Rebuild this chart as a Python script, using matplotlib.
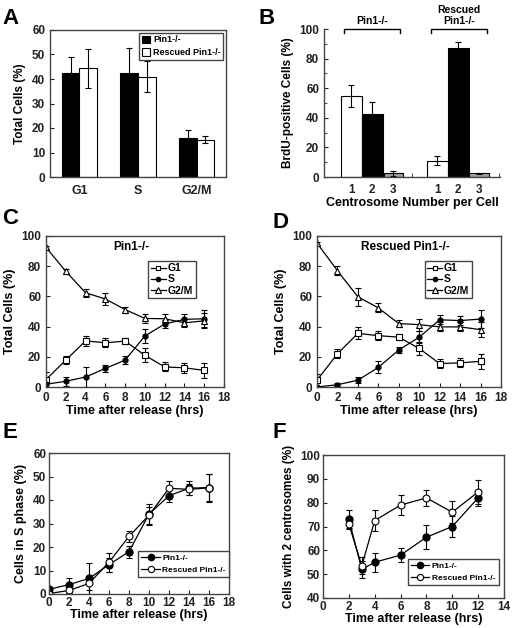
import numpy as np
import matplotlib
matplotlib.use("Agg")
from matplotlib import pyplot as plt
from matplotlib.lines import Line2D

plt.rcParams['font.family'] = ['Liberation Sans', 'DejaVu Sans']
plt.rcParams['font.weight'] = 'bold'
plt.rcParams['axes.labelweight'] = 'bold'
plt.rcParams['axes.edgecolor'] = '#444444'
plt.rcParams['axes.linewidth'] = 1.0
plt.rcParams['xtick.direction'] = 'in'
plt.rcParams['ytick.direction'] = 'in'
plt.rcParams['xtick.color'] = '#222222'
plt.rcParams['ytick.color'] = '#222222'

# --- Panel A: cell cycle distribution ---
phases = ["G1", "S", "G2/M"]
a_pin1 = [42.3, 42.5, 15.8]
a_pin1_err = [6.5, 10.0, 3.5]
a_resc = [44.3, 41.0, 15.2]
a_resc_err = [8.0, 6.5, 1.5]

# --- Panel B: BrdU-positive cells by centrosome number ---
centro_labels = ["1", "2", "3"]
b_pin1 = [55.0, 42.5, 2.5]
b_pin1_err = [7.5, 8.0, 1.5]
b_resc = [11.0, 87.5, 2.5]
b_resc_err = [3.0, 3.5, 0.5]
b_colors = ["white", "black", "#a0a0a0"]

# --- Panels C / D: time course after release ---
hours = [0, 2, 4, 6, 8, 10, 12, 14, 16]
c_g1 = [4.9, 17.8, 30.5, 29.3, 30.4, 21.0, 13.3, 12.7, 11.0]
c_g1_err = [5.0, 2.5, 3.5, 3.0, 2.0, 4.5, 3.0, 3.5, 5.0]
c_s = [1.8, 3.8, 6.6, 12.3, 17.8, 33.8, 41.7, 44.8, 45.2]
c_s_err = [1.5, 3.0, 6.5, 2.5, 2.5, 4.5, 2.5, 3.5, 5.5]
c_g2m = [92.5, 76.6, 62.4, 58.3, 51.3, 45.4, 45.2, 42.5, 43.8]
c_g2m_err = [1.0, 1.5, 2.5, 4.0, 2.0, 3.0, 3.0, 2.5, 5.0]

d_g1 = [4.5, 22.0, 35.5, 34.0, 33.0, 25.5, 15.5, 16.0, 17.0]
d_g1_err = [4.0, 3.0, 4.0, 3.0, 2.0, 4.0, 3.0, 3.0, 5.0]
d_s = [0.0, 1.5, 4.5, 13.0, 24.5, 33.0, 44.5, 44.0, 45.0]
d_s_err = [0.5, 1.0, 2.0, 4.0, 2.0, 4.0, 3.0, 3.0, 6.0]
d_g2m = [95.3, 77.0, 59.7, 52.4, 42.0, 41.3, 39.8, 39.8, 38.0]
d_g2m_err = [1.0, 3.0, 6.0, 3.0, 2.5, 4.0, 3.0, 3.0, 5.0]

# --- Panel E: S phase ---
e_pin1 = [2.0, 4.0, 6.6, 12.5, 18.0, 34.0, 41.8, 45.0, 45.3]
e_pin1_err = [0.5, 3.0, 6.5, 3.0, 2.5, 4.5, 2.5, 3.0, 5.8]
e_resc = [0.2, 1.5, 4.5, 13.5, 24.5, 33.5, 45.0, 44.5, 45.2]
e_resc_err = [0.5, 1.0, 3.0, 4.0, 2.5, 3.5, 3.0, 2.5, 6.0]

# --- Panel F: cells with 2 centrosomes ---
f_hours = [2, 3, 4, 6, 8, 10, 12]
f_pin1 = [73.0, 52.0, 55.0, 58.0, 65.5, 70.0, 82.0]
f_pin1_err = [3.8, 3.5, 4.0, 3.0, 5.0, 4.5, 3.5]
f_resc = [71.0, 53.5, 72.5, 79.0, 82.0, 76.0, 84.5]
f_resc_err = [2.0, 3.5, 4.5, 4.2, 3.5, 4.5, 5.0]

W, H = 512, 628
fig = plt.figure(figsize=(W / 100, H / 100), dpi=100)


def box(l, r, t, b):
    return [l / W, 1 - b / H, (r - l) / W, (b - t) / H]


tick_fs = 8.5
lab_fs = 8.5
leg_fs = 6.5
letter_fs = 16

# Panel A
axA = fig.add_axes(box(50, 226, 30, 177))
xa = np.arange(len(phases)) + 0.5
bw = 0.3
axA.bar(xa - bw / 2, a_pin1, bw, color="black", edgecolor="black", linewidth=0.8,
        yerr=a_pin1_err, capsize=2.5, error_kw=dict(elinewidth=0.8, capthick=0.8), label="Pin1-/-")
axA.bar(xa + bw / 2, a_resc, bw, color="white", edgecolor="black", linewidth=0.8,
        yerr=a_resc_err, capsize=2.5, error_kw=dict(elinewidth=0.8, capthick=0.8), label="Rescued Pin1-/-")
axA.set_xlim(0, 3)
axA.set_ylim(0, 60)
axA.set_xticks(xa)
axA.set_xticklabels(phases, fontsize=tick_fs + 0.5)
axA.tick_params(axis='x', length=0, pad=6)
axA.set_yticks(np.arange(0, 61, 10))
axA.tick_params(axis='y', labelsize=tick_fs, length=3)
axA.set_ylabel("Total Cells (%)", fontsize=lab_fs)
axA.legend(loc="upper right", fontsize=leg_fs, fancybox=False, edgecolor="#444444",
           handlelength=0.9, handleheight=0.9, handletextpad=0.3, borderpad=0.3,
           labelspacing=0.4, borderaxespad=0.3, framealpha=1)
fig.text(2 / W, 1 - 18 / H, "A", fontsize=letter_fs, fontweight="bold", va="center")

# Panel B
axB = fig.add_axes(box(324, 500, 29, 177))
g1 = np.array([1.3, 2.3, 3.3])
g2 = np.array([5.4, 6.4, 7.4])
for i in range(3):
    w = 1.0 if i < 2 else 0.92
    axB.bar(g1[i], b_pin1[i], w, color=b_colors[i], edgecolor="black", linewidth=0.8,
            yerr=b_pin1_err[i], capsize=2.5, error_kw=dict(elinewidth=0.8, capthick=0.8))
    axB.bar(g2[i], b_resc[i], w, color=b_colors[i], edgecolor="black", linewidth=0.8,
            yerr=b_resc_err[i], capsize=2.5, error_kw=dict(elinewidth=0.8, capthick=0.8))
axB.set_xlim(0, 8.4)
axB.set_ylim(0, 100)
axB.spines['top'].set_visible(False)
axB.spines['right'].set_visible(False)
axB.set_xticks(np.concatenate([g1, g2]))
axB.set_xticklabels(centro_labels * 2, fontsize=tick_fs)
axB.tick_params(axis='x', length=0, pad=5)
axB.set_xticks([4.2, 8.35], minor=True)
axB.tick_params(axis='x', which='minor', length=3)
axB.set_yticks(np.arange(0, 101, 20))
axB.set_yticks(np.arange(10, 100, 20), minor=True)
axB.tick_params(axis='y', labelsize=tick_fs, length=3)
axB.tick_params(axis='y', which='minor', length=2)
axB.set_ylabel("BrdU-positive Cells (%)", fontsize=lab_fs)
axB.set_xlabel("Centrosome Number per Cell", fontsize=lab_fs + 0.5, labelpad=1)
for (x0, x1), txt in zip([(0.95, 3.62), (5.1, 7.76)], ["Pin1-/-", "Rescued\nPin1-/-"]):
    axB.plot([x0, x0, x1, x1], [97, 100, 100, 97], color="black", lw=1.0, clip_on=False)
    axB.text((x0 + x1) / 2, 102, txt, ha="center", va="bottom", fontsize=7.5,
             linespacing=1.1, clip_on=False)
fig.text(259 / W, 1 - 18 / H, "B", fontsize=letter_fs, fontweight="bold", va="center")


def time_panel(ax, g1, g1e, s, se, g2m, g2me, title):
    ek = dict(capsize=2, elinewidth=0.8, capthick=0.8, lw=0.9, ecolor="black")
    ax.errorbar(hours, g1, yerr=g1e, color="black", marker="s", ms=4.5, mfc="white",
                mec="black", mew=0.8, **ek)
    ax.errorbar(hours, s, yerr=se, color="black", marker="o", ms=3.5, mfc="black",
                mec="black", **ek)
    ax.errorbar(hours, g2m, yerr=g2me, color="black", marker="^", ms=5, mfc="white",
                mec="black", mew=0.8, **ek)
    ax.set_xlim(0, 18)
    ax.set_ylim(0, 100)
    ax.set_xticks(np.arange(0, 19, 2))
    ax.set_yticks(np.arange(0, 101, 20))
    ax.tick_params(labelsize=tick_fs, length=3)
    ax.set_xlabel("Time after release (hrs)", fontsize=lab_fs + 0.5, labelpad=1)
    ax.set_ylabel("Total Cells (%)", fontsize=lab_fs + 0.5)
    ax.text(0.48, 0.93, title, transform=ax.transAxes, ha="center", va="center", fontsize=8.5)
    handles = [
        Line2D([], [], color="black", lw=0.9, marker="s", ms=3.5, mfc="white", mew=0.8),
        Line2D([], [], color="black", lw=0.9, marker="o", ms=3, mfc="black"),
        Line2D([], [], color="black", lw=0.9, marker="^", ms=4, mfc="white", mew=0.8),
    ]
    ax.legend(handles, ["G1", "S", "G2/M"], loc="upper right", bbox_to_anchor=(0.87, 0.87),
              fontsize=7.5, fancybox=False, edgecolor="#444444", handlelength=1.4,
              handletextpad=0.2, borderpad=0.25, labelspacing=0.1, framealpha=1)


axC = fig.add_axes(box(46, 224, 236, 387))
time_panel(axC, c_g1, c_g1_err, c_s, c_s_err, c_g2m, c_g2m_err, "Pin1-/-")
fig.text(2 / W, 1 - 218 / H, "C", fontsize=letter_fs, fontweight="bold", va="center")

axD = fig.add_axes(box(317, 501, 236, 387))
time_panel(axD, d_g1, d_g1_err, d_s, d_s_err, d_g2m, d_g2m_err, "Rescued Pin1-/-")
fig.text(272 / W, 1 - 222 / H, "D", fontsize=letter_fs, fontweight="bold", va="center")


def two_series(ax, x, y1, e1, y2, e2, anchor):
    ek = dict(capsize=2, elinewidth=0.8, capthick=0.8, lw=0.9, ecolor="black")
    ax.errorbar(x, y1, yerr=e1, color="black", marker="o", ms=5, mfc="black",
                mec="black", **ek)
    ax.errorbar(x, y2, yerr=e2, color="black", marker="o", ms=5, mfc="white",
                mec="black", mew=0.8, **ek)
    ax.tick_params(labelsize=tick_fs, length=3, pad=2)
    ax.set_xlabel("Time after release (hrs)", fontsize=lab_fs + 0.5, labelpad=0)
    handles = [
        Line2D([], [], color="black", lw=0.9, marker="o", ms=4.5, mfc="black"),
        Line2D([], [], color="black", lw=0.9, marker="o", ms=4.5, mfc="white", mew=0.8),
    ]
    ax.legend(handles, ["Pin1-/-", "Rescued Pin1-/-"], loc="lower right", bbox_to_anchor=anchor,
              fontsize=leg_fs - 0.5, fancybox=False, edgecolor="#444444", handlelength=2.2,
              handletextpad=0.3, borderpad=0.4, labelspacing=0.5, framealpha=1, borderaxespad=0)


# Panel E
axE = fig.add_axes(box(49, 229, 453, 594))
two_series(axE, hours, e_pin1, e_pin1_err, e_resc, e_resc_err, (1.0, 0.12))
axE.set_xlim(0, 18)
axE.set_ylim(0, 60)
axE.set_xticks(np.arange(0, 19, 2))
axE.set_yticks(np.arange(0, 61, 10))
axE.set_ylabel("Cells in S phase (%)", fontsize=lab_fs + 0.5)
fig.text(2 / W, 1 - 433 / H, "E", fontsize=letter_fs, fontweight="bold", va="center")

# Panel F
axF = fig.add_axes(box(323, 504, 455, 598))
two_series(axF, f_hours, f_pin1, f_pin1_err, f_resc, f_resc_err, (0.97, 0.09))
axF.set_xlim(0, 14)
axF.set_ylim(40, 100)
axF.set_xticks(np.arange(0, 15, 2))
axF.set_yticks(np.arange(40, 101, 10))
axF.set_ylabel("Cells with 2 centrosomes (%)", fontsize=lab_fs)
fig.text(272 / W, 1 - 432 / H, "F", fontsize=letter_fs, fontweight="bold", va="center")

fig.savefig("out.png", dpi=100)
